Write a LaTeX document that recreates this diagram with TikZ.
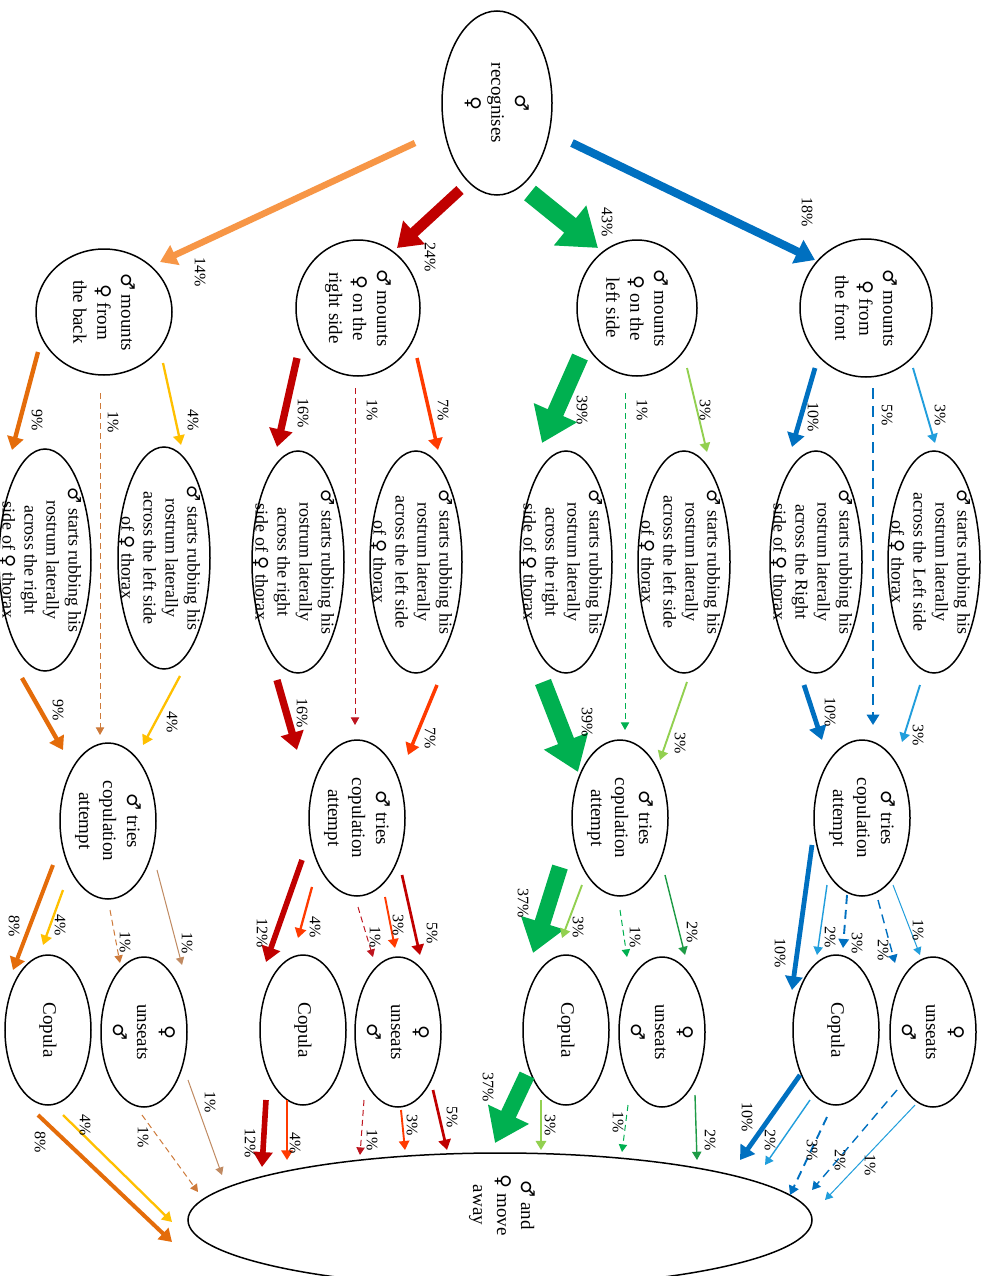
\documentclass[tikz,border=0pt]{standalone}
\usepackage{fontspec}
\setmainfont{Liberation Serif}
\newfontfamily\symf{DejaVu Sans}[Scale=1.0]
\newcommand\Ma{{\symf ♂}}
\newcommand\Fe{{\symf ♀}}
\usetikzlibrary{shapes.geometric,arrows.meta,calc}
\definecolor{orL}{RGB}{247,150,70}
\definecolor{orD}{RGB}{228,108,10}
\definecolor{gold}{RGB}{255,192,0}
\definecolor{orDash}{RGB}{206,122,58}
\definecolor{tan}{RGB}{192,138,98}
\definecolor{dkred}{RGB}{192,0,0}
\definecolor{redor}{RGB}{255,58,0}
\definecolor{redDash}{RGB}{190,20,30}
\definecolor{grn}{RGB}{0,176,80}
\definecolor{grnL}{RGB}{146,208,80}
\definecolor{grnD}{RGB}{30,155,70}
\definecolor{blu}{RGB}{0,112,192}
\definecolor{bluL}{RGB}{33,158,220}
\begin{document}
\begin{tikzpicture}[x=1pt,y=-1pt,
  el/.style={draw,ellipse,line width=1.5pt,inner sep=0pt,rotate=-90},
  tx/.style={rotate=-90,align=center,font=\fontsize{19}{24}\selectfont,inner sep=0pt},
  txs/.style={rotate=-90,align=center,font=\fontsize{18}{22}\selectfont,inner sep=0pt},
  pc/.style={rotate=-90,font=\fontsize{16}{18}\selectfont,inner sep=0pt},
  fl/.style={line width=#1,-{Triangle[length=6pt 1.6,width=6pt 2.3]}},
  ds/.style={dash pattern=on 6pt off 4pt},
  dsm/.style={dash pattern=on 9pt off 6pt},
  dsb/.style={dash pattern=on 11pt off 7pt},
  rub/.style={el,minimum width=222pt,minimum height=92pt},
  tri/.style={el,minimum width=156pt,minimum height=96pt},
  fin/.style={el,minimum width=150pt,minimum height=86pt},
]
\useasboundingbox (0,0) rectangle (989,1276);
\fill[white] (0,0) rectangle (989,1276);
% ---------- nodes ----------
\node[el,minimum width=184pt,minimum height=110pt] (R) at (497,103) {};
\node[tx] (Rt) at (R) {\Ma\\recognises\\\Fe};

\node[el,minimum width=126pt,minimum height=136pt] (M1) at (104,312) {};
\node[tx] (M1t) at (M1) {\Ma{} mounts\\\Fe{} from\\the back};
\node[el,minimum width=136pt,minimum height=124pt] (M2) at (358,308) {};
\node[tx] (M2t) at (M2) {\Ma{} mounts\\\Fe{} on the\\right side};
\node[el,minimum width=136pt,minimum height=120pt] (M3) at (637,308) {};
\node[tx] (M3t) at (M3) {\Ma{} mounts\\\Fe{} on the\\left side};
\node[el,minimum width=138pt,minimum height=132pt] (M4) at (866,308) {};
\node[tx] (M4t) at (M4) {\Ma{} mounts\\\Fe{} from\\the front};

\node[rub] (X1) at (45,560) {};
\node[txs] (X1t) at ($(X1)+(-4,0)$) {\Ma{} starts rubbing his\\rostrum laterally\\across the right\\side of \Fe{} thorax};
\node[rub] (Y1) at (164,558) {};
\node[txs] (Y1t) at ($(Y1)+(-4,0)$) {\Ma{} starts rubbing his\\rostrum laterally\\across the left side\\of \Fe{} thorax};
\node[rub] (X2) at (298,562) {};
\node[txs] (X2t) at ($(X2)+(-4,0)$) {\Ma{} starts rubbing his\\rostrum laterally\\across the right\\side of \Fe{} thorax};
\node[rub] (Y2) at (416,562) {};
\node[txs] (Y2t) at ($(Y2)+(-4,0)$) {\Ma{} starts rubbing his\\rostrum laterally\\across the left side\\of \Fe{} thorax};
\node[rub] (X3) at (566,562) {};
\node[txs] (X3t) at ($(X3)+(-4,0)$) {\Ma{} starts rubbing his\\rostrum laterally\\across the right\\side of \Fe{} thorax};
\node[rub] (Y3) at (684,562) {};
\node[txs] (Y3t) at ($(Y3)+(-4,0)$) {\Ma{} starts rubbing his\\rostrum laterally\\across the left side\\of \Fe{} thorax};
\node[rub] (X4) at (816,562) {};
\node[txs] (X4t) at ($(X4)+(-4,0)$) {\Ma{} starts rubbing his\\rostrum laterally\\across the Right\\side of \Fe{} thorax};
\node[rub] (Y4) at (934,562) {};
\node[txs] (Y4t) at ($(Y4)+(-4,0)$) {\Ma{} starts rubbing his\\rostrum laterally\\across the Left side\\of \Fe{} thorax};

\node[tri] (T1) at (108,821) {};
\node[tx] (T1t) at (T1) {\Ma{} tries\\copulation\\attempt};
\node[tri] (T2) at (357,818) {};
\node[tx] (T2t) at (T2) {\Ma{} tries\\copulation\\attempt};
\node[tri] (T3) at (620,818) {};
\node[tx] (T3t) at (T3) {\Ma{} tries\\copulation\\attempt};
\node[tri] (T4) at (862,818) {};
\node[tx] (T4t) at (T4) {\Ma{} tries\\copulation\\attempt};

\node[fin] (C1) at (48,1030) {};
\node[tx] (C1t) at (C1) {Copula};
\node[fin] (U1) at (144,1032) {};
\node[tx] (U1t) at (U1) {\Fe\\unseats\\\Ma};
\node[fin] (C2) at (303,1030) {};
\node[tx] (C2t) at (C2) {Copula};
\node[fin] (U2) at (398,1032) {};
\node[tx] (U2t) at (U2) {\Fe\\unseats\\\Ma};
\node[fin] (C3) at (566,1030) {};
\node[tx] (C3t) at (C3) {Copula};
\node[fin] (U3) at (662,1032) {};
\node[tx] (U3t) at (U3) {\Fe\\unseats\\\Ma};
\node[fin] (C4) at (836,1030) {};
\node[tx] (C4t) at (C4) {Copula};
\node[fin] (U4) at (933,1032) {};
\node[tx] (U4t) at (U4) {\Fe\\unseats\\\Ma};

\node[draw,ellipse,line width=1.5pt,inner sep=0pt,minimum width=624pt,minimum height=134pt] (A) at (500,1220) {};
\node[tx] (At) at (502,1205) {\Ma{} and\\\Fe{} move\\away};

% ---------- top arrows ----------
\draw[fl=6.5pt,orL] ($(R)+(-82,40)$) -- ($(M1)+(56,-50)$);
\draw[fl=10.7pt,dkred] ($(R)+(-37,87)$) -- ($(M2)+(39,-60)$);
\draw[fl=18.7pt,grn] ($(R)+(33,90)$) -- ($(M3)+(-39,-60)$);
\draw[fl=8.2pt,blu] ($(R)+(75,40)$) -- ($(M4)+(-51,-48)$);
\node[pc] (p1) at (200,272) {14\%};
\node[pc] (p2) at (430,257) {24\%};
\node[pc] (p3) at (607,222) {43\%};
\node[pc] (p4) at (807,212) {18\%};

% ---------- back column ----------
\draw[fl=4.4pt,orD] ($(M1)+(-66,40)$) -- ($(X1)+(-33,-110)$);
\draw[fl=1pt,orDash,ds] ($(M1)+(-4,81)$) -- ($(T1)+(-8,-86)$);
\draw[fl=2.3pt,gold] ($(M1)+(59,51)$) -- ($(Y1)+(17,-113)$);
\draw[fl=4.4pt,orD] ($(X1)+(-23,118)$) -- ($(T1)+(-45,-71)$);
\draw[fl=2.3pt,gold] ($(Y1)+(16,118)$) -- ($(T1)+(35,-76)$);
\draw[fl=4pt,orD] ($(T1)+(-55,44)$) -- ($(C1)+(-35,-60)$);
\draw[fl=2.3pt,gold] ($(T1)+(-45,69)$) -- ($(C1)+(-5,-85)$);
\draw[fl=1pt,orDash,ds] ($(T1)+(2,89)$) -- ($(U1)+(-24,-69)$);
\draw[fl=1pt,tan] ($(T1)+(49,49)$) -- ($(U1)+(38,-67)$);
\draw[fl=4pt,orD] ($(C1)+(-10,85)$) -- ($(A)+(-328,22)$);
\draw[fl=2.3pt,gold] ($(C1)+(15,85)$) -- ($(A)+(-328,2)$);
\draw[fl=1pt,orDash,ds] ($(U1)+(-2,83)$) -- ($(A)+(-302,-28)$);
\draw[fl=1pt,tan] ($(U1)+(44,48)$) -- ($(A)+(-278,-45)$);
\node[pc] (b1) at (37,420) {9\%};
\node[pc] (b2) at (113,422) {1\%};
\node[pc] (b3) at (193,420) {4\%};
\node[pc] (b4) at (58,710) {9\%};
\node[pc] (b5) at (172,722) {4\%};
\node[pc] (b6) at (14,926) {8\%};
\node[pc] (b7) at (60,925) {4\%};
\node[pc] (b8) at (125,942) {1\%};
\node[pc] (b9) at (187,943) {1\%};
\node[pc] (b10) at (40,1142) {8\%};
\node[pc] (b11) at (85,1125) {4\%};
\node[pc] (b12) at (143,1137) {1\%};
\node[pc] (b13) at (210,1102) {1\%};

% ---------- right-side column ----------
\draw[fl=7.3pt,dkred] ($(M2)+(-61,50)$) -- ($(X2)+(-21,-115)$);
\draw[fl=1pt,redDash,ds] ($(M2)+(-3,80)$) -- ($(T2)+(-2,-93)$);
\draw[fl=3.5pt,redor] ($(M2)+(59,50)$) -- ($(Y2)+(22,-112)$);
\draw[fl=7.3pt,dkred] ($(X2)+(-21,118)$) -- ($(T2)+(-60,-68)$);
\draw[fl=3.5pt,redor] ($(Y2)+(21,123)$) -- ($(T2)+(51,-63)$);
\draw[fl=5.6pt,dkred] ($(T2)+(-55,42)$) -- ($(C2)+(-37,-68)$);
\draw[fl=2.3pt,redor] ($(T2)+(-45,69)$) -- ($(C2)+(-5,-92)$);
\draw[fl=1pt,redDash,ds] ($(T2)+(1,89)$) -- ($(U2)+(-25,-75)$);
\draw[fl=1.9pt,redor] ($(T2)+(28,79)$) -- ($(U2)+(-3,-84)$);
\draw[fl=2.7pt,dkred] ($(T2)+(45,57)$) -- ($(U2)+(22,-77)$);
\draw[fl=5.6pt,dkred] ($(C2)+(-37,70)$) -- ($(A)+(-238,-53)$);
\draw[fl=2.3pt,redor] ($(C2)+(-16,70)$) -- ($(A)+(-213,-60)$);
\draw[fl=1pt,redDash,ds] ($(U2)+(-34,68)$) -- ($(A)+(-140,-65)$);
\draw[fl=1.9pt,redor] ($(U2)+(3,78)$) -- ($(A)+(-95,-70)$);
\draw[fl=2.7pt,dkred] ($(U2)+(35,58)$) -- ($(A)+(-53,-70)$);
\node[pc] (r1) at (303,413) {16\%};
\node[pc] (r2) at (372,410) {1\%};
\node[pc] (r3) at (443,410) {7\%};
\node[pc] (r4) at (302,713) {16\%};
\node[pc] (r5) at (430,738) {7\%};
\node[pc] (r6) at (262,933) {12\%};
\node[pc] (r7) at (315,927) {4\%};
\node[pc] (r8) at (375,937) {1\%};
\node[pc] (r9) at (398,925) {3\%};
\node[pc] (r10) at (432,933) {5\%};
\node[pc] (r11) at (250,1143) {12\%};
\node[pc] (r12) at (295,1143) {4\%};
\node[pc] (r13) at (372,1140) {1\%};
\node[pc] (r14) at (412,1125) {3\%};
\node[pc] (r15) at (452,1117) {5\%};

% ---------- left-side column ----------
\draw[fl=17pt,grn] ($(M3)+(-57,49)$) -- ($(X3)+(-24,-119)$);
\draw[fl=1pt,grn,ds] ($(M3)+(-12,85)$) -- ($(T3)+(5,-88)$);
\draw[fl=1.9pt,grnL] ($(M3)+(50,60)$) -- ($(Y3)+(23,-110)$);
\draw[fl=17pt,grn] ($(X3)+(-23,120)$) -- ($(T3)+(-42,-46)$);
\draw[fl=1.9pt,grnL] ($(Y3)+(3,120)$) -- ($(T3)+(40,-58)$);
\draw[fl=16.1pt,grn] ($(T3)+(-60,49)$) -- ($(C3)+(-33,-77)$);
\draw[fl=1.9pt,grnL] ($(T3)+(-38,67)$) -- ($(C3)+(-4,-92)$);
\draw[fl=1pt,grn,ds] ($(T3)+(0,92)$) -- ($(U3)+(-35,-75)$);
\draw[fl=1.4pt,grnD] ($(T3)+(45,57)$) -- ($(U3)+(23,-77)$);
\draw[fl=16.1pt,grn] ($(C3)+(-39,45)$) -- ($(A)+(-5,-77)$);
\draw[fl=1.9pt,grnL] ($(C3)+(-25,70)$) -- ($(A)+(41,-70)$);
\draw[fl=1pt,grn,ds] ($(U3)+(-34,73)$) -- ($(A)+(122,-68)$);
\draw[fl=1.4pt,grnD] ($(U3)+(33,63)$) -- ($(A)+(197,-60)$);
\node[pc] (g1) at (582,410) {39\%};
\node[pc] (g2) at (642,410) {1\%};
\node[pc] (g3) at (705,410) {3\%};
\node[pc] (g4) at (587,722) {39\%};
\node[pc] (g5) at (680,743) {3\%};
\node[pc] (g6) at (523,903) {37\%};
\node[pc] (g7) at (578,927) {3\%};
\node[pc] (g8) at (635,937) {1\%};
\node[pc] (g9) at (692,932) {2\%};
\node[pc] (g10) at (488,1087) {37\%};
\node[pc] (g11) at (550,1125) {3\%};
\node[pc] (g12) at (618,1122) {1\%};
\node[pc] (g13) at (710,1140) {2\%};

% ---------- front column ----------
\draw[fl=4.8pt,blu] ($(M4)+(-51,60)$) -- ($(X4)+(-24,-115)$);
\draw[fl=2.7pt,blu,dsb] ($(M4)+(7,80)$) -- ($(T4)+(11,-93)$);
\draw[fl=1.9pt,bluL] ($(M4)+(47,60)$) -- ($(Y4)+(1,-119)$);
\draw[fl=4.8pt,blu] ($(X4)+(-12,123)$) -- ($(T4)+(-40,-78)$);
\draw[fl=1.9pt,bluL] ($(Y4)+(-14,123)$) -- ($(T4)+(40,-76)$);
\draw[fl=4.8pt,blu] ($(T4)+(-50,27)$) -- ($(C4)+(-44,-40)$);
\draw[fl=1.4pt,bluL] ($(T4)+(-35,67)$) -- ($(C4)+(-19,-75)$);
\draw[fl=1.9pt,blu,dsm] ($(T4)+(-15,77)$) -- ($(C4)+(7,-82)$);
\draw[fl=1.4pt,blu,dsm] ($(T4)+(16,82)$) -- ($(U4)+(-38,-69)$);
\draw[fl=1pt,bluL] ($(T4)+(31,67)$) -- ($(U4)+(-13,-77)$);
\draw[fl=4.8pt,blu] ($(C4)+(-36,45)$) -- ($(A)+(240,-60)$);
\draw[fl=1.4pt,bluL] ($(C4)+(-26,70)$) -- ($(A)+(265,-55)$);
\draw[fl=1.9pt,blu,dsm] ($(C4)+(-9,87)$) -- ($(A)+(290,-25)$);
\draw[fl=1.4pt,blu,dsm] ($(U4)+(-36,58)$) -- ($(A)+(312,-30)$);
\draw[fl=1pt,bluL] ($(U4)+(-18,73)$) -- ($(A)+(325,-20)$);
\node[pc] (f1) at (813,417) {10\%};
\node[pc] (f2) at (887,415) {5\%};
\node[pc] (f3) at (940,415) {3\%};
\node[pc] (f4) at (830,712) {10\%};
\node[pc] (f5) at (918,735) {3\%};
\node[pc] (f6) at (780,953) {10\%};
\node[pc] (f7) at (830,937) {2\%};
\node[pc] (f8) at (857,943) {3\%};
\node[pc] (f9) at (883,950) {2\%};
\node[pc] (f10) at (918,930) {1\%};
\node[pc] (f11) at (747,1117) {10\%};
\node[pc] (f12) at (770,1140) {2\%};
\node[pc] (f13) at (812,1150) {3\%};
\node[pc] (f14) at (840,1160) {2\%};
\node[pc] (f15) at (870,1165) {1\%};
\end{tikzpicture}
\end{document}
